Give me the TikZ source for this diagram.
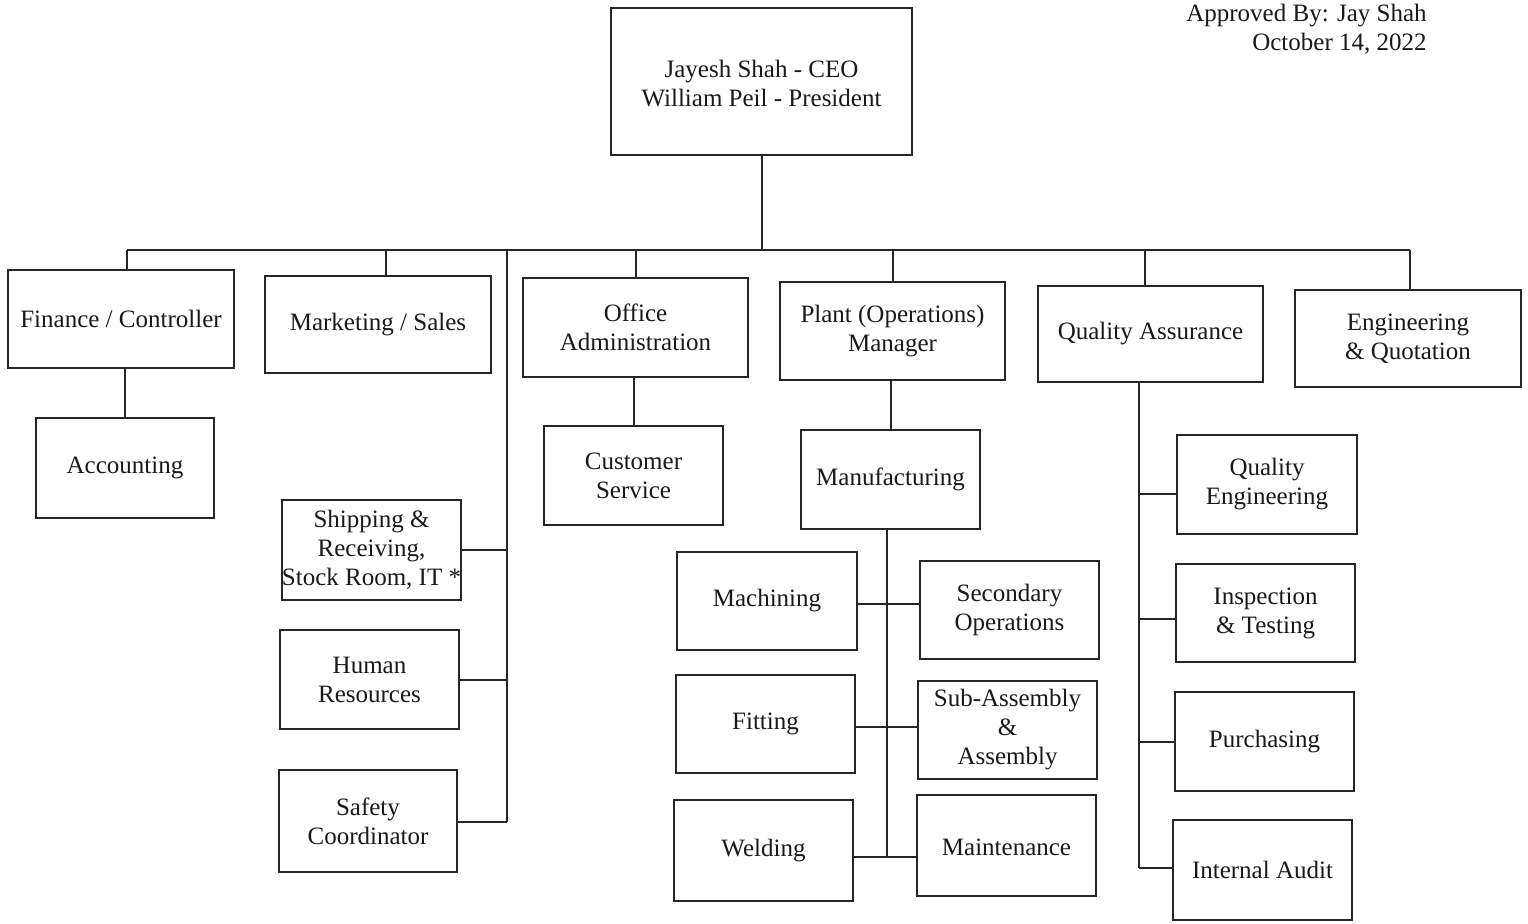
\documentclass[tikz,border=0pt]{standalone}
\usepackage{fontspec}
\setmainfont{Liberation Serif}
\usetikzlibrary{fit,calc}
\begin{document}
\begin{tikzpicture}[x=0.5pt,y=-0.5pt,
  box/.style={draw=black!85, line width=1.1pt, inner sep=0pt},
  txt/.style={align=center, inner sep=0pt, font=\fontsize{12.5}{14.5}\selectfont, text=black!90},
  conn/.style={draw=black!85, line width=1pt},
  lbl/.style={font=\fontsize{12.5}{14.5}\selectfont, align=right, anchor=north east, inner sep=0pt, text=black!90}]
\useasboundingbox[fill=white] (0,0) rectangle (1528,923);

\node[lbl] (appr) at (1427,4) {Approved By: Jay Shah\\October 14, 2022};

\node[box, fit={(611,8)(912,155)}] (ceo) {};
\node[txt] (ceoT) at ($(ceo.center)+(0,2)$) {Jayesh Shah - CEO\\William Peil - President};

\node[box, fit={(8,270)(234,368)}] (fin) {};
\node[txt] (finT) at (fin.center) {Finance / Controller};
\node[box, fit={(265,276)(491,373)}] (mkt) {};
\node[txt] (mktT) at (mkt.center) {Marketing / Sales};
\node[box, fit={(523,278)(748,377)}] (off) {};
\node[txt] (offT) at (off.center) {Office\\Administration};
\node[box, fit={(780,282)(1005,380)}] (plant) {};
\node[txt] (plantT) at (plant.center) {Plant (Operations)\\Manager};
\node[box, fit={(1038,286)(1263,382)}] (qa) {};
\node[txt] (qaT) at (qa.center) {Quality Assurance};
\node[box, fit={(1295,290)(1521,387)}] (eng) {};
\node[txt] (engT) at (eng.center) {Engineering\\\& Quotation};

\node[box, fit={(36,418)(214,518)}] (acc) {};
\node[txt] (accT) at (acc.center) {Accounting};
\node[box, fit={(544,426)(723,525)}] (cs) {};
\node[txt] (csT) at (cs.center) {Customer\\Service};
\node[box, fit={(801,430)(980,529)}] (mfg) {};
\node[txt] (mfgT) at (mfg.center) {Manufacturing};

\node[box, fit={(282,500)(461,600)}] (ship) {};
\node[txt] (shipT) at (ship.center) {Shipping \&\\Receiving,\\Stock Room, IT *};
\node[box, fit={(280,630)(459,729)}] (hr) {};
\node[txt] (hrT) at (hr.center) {Human\\Resources};
\node[box, fit={(279,770)(457,872)}] (safe) {};
\node[txt] (safeT) at (safe.center) {Safety\\Coordinator};

\node[box, fit={(677,552)(857,650)}] (mach) {};
\node[txt] (machT) at (mach.center) {Machining};
\node[box, fit={(920,561)(1099,659)}] (sec) {};
\node[txt] (secT) at (sec.center) {Secondary\\Operations};
\node[box, fit={(676,675)(855,773)}] (fit) {};
\node[txt] (fitT) at (fit.center) {Fitting};
\node[box, fit={(918,681)(1097,779)}] (sub) {};
\node[txt] (subT) at (sub.center) {Sub-Assembly\\\&\\Assembly};
\node[box, fit={(674,800)(853,901)}] (weld) {};
\node[txt] (weldT) at (weld.center) {Welding};
\node[box, fit={(917,795)(1096,896)}] (maint) {};
\node[txt] (maintT) at ($(maint.center)+(0,2)$) {Maintenance};

\node[box, fit={(1177,435)(1357,534)}] (qe) {};
\node[txt] (qeT) at (qe.center) {Quality\\Engineering};
\node[box, fit={(1176,564)(1355,662)}] (insp) {};
\node[txt] (inspT) at (insp.center) {Inspection\\\& Testing};
\node[box, fit={(1175,692)(1354,791)}] (purch) {};
\node[txt] (purchT) at (purch.center) {Purchasing};
\node[box, fit={(1173,820)(1352,920)}] (audit) {};
\node[txt] (auditT) at (audit.center) {Internal Audit};

% bus
\coordinate (busL) at (127,250);
\coordinate (busR) at (1410,250);
\coordinate (vA) at (507,822);
\coordinate (vM) at (887,857);
\coordinate (vQ) at (1139,868);

\draw[conn] (ceo.south) -- (ceo.south |- busL);
\draw[conn] (busL) -- (busR);
\draw[conn] (busL) -- (busL |- fin.north);
\draw[conn] ($(mkt.north |- busL)+(8,0)$) -- ($(mkt.north)+(8,0)$);
\draw[conn] (off.north |- busL) -- (off.north);
\draw[conn] (plant.north |- busL) -- (plant.north);
\draw[conn] ($(qa.north |- busL)+(-6,0)$) -- ($(qa.north)+(-6,0)$);
\draw[conn] (busR) -- (busR |- eng.north);

\draw[conn] (vA |- busL) -- (vA);
\draw[conn] (ship.east) -- (ship.east -| vA);
\draw[conn] (hr.east) -- (hr.east -| vA);
\draw[conn] (safe.east |- vA) -- (vA);

\draw[conn] (fin.south -| acc.north) -- (acc.north);
\draw[conn] (off.south -| cs.north) -- (cs.north);
\draw[conn] (plant.south -| mfg.north) -- (mfg.north);

\draw[conn] (vM |- mfg.south) -- (vM);
\draw[conn] ($(mach.east)+(0,3)$) -- ($(mach.east -| sec.west)+(0,3)$);
\draw[conn] ($(fit.east)+(0,3)$) -- ($(fit.east -| sub.west)+(0,3)$);
\draw[conn] (weld.east |- vM) -- (maint.west |- vM);

\draw[conn] (vQ |- qa.south) -- (vQ);
\draw[conn] ($(qe.west)+(0,9)$) -- ($(qe.west -| vQ)+(0,9)$);
\draw[conn] ($(insp.west)+(0,6)$) -- ($(insp.west -| vQ)+(0,6)$);
\draw[conn] (purch.west) -- (purch.west -| vQ);
\draw[conn] (audit.west |- vQ) -- (vQ);
\end{tikzpicture}
\end{document}
